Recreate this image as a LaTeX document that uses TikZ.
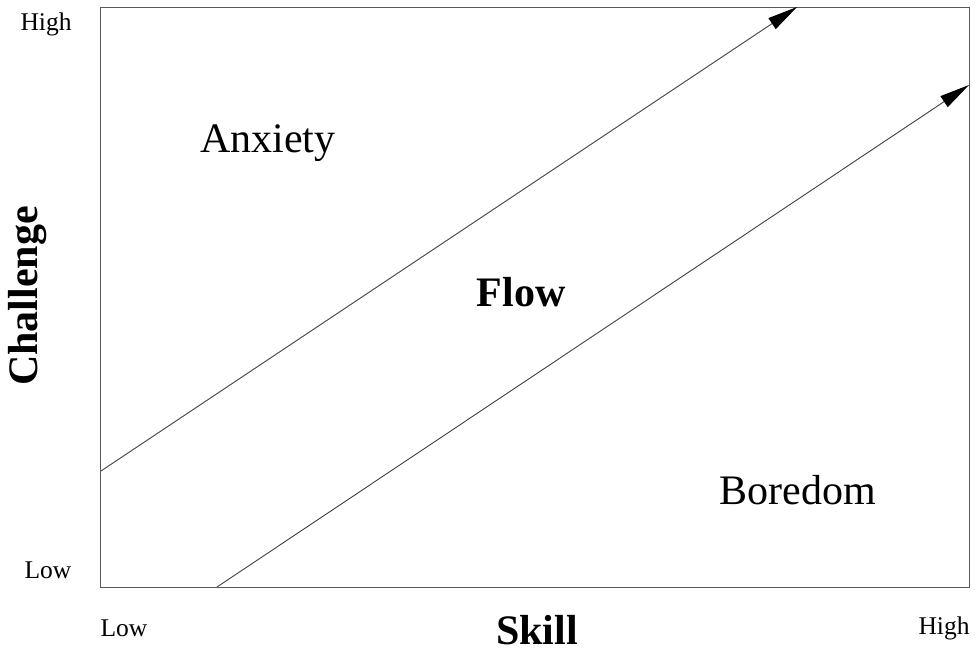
\documentclass[tikz,border=0pt]{standalone}
\usepackage{fontspec}
\setmainfont{Liberation Serif}
\usetikzlibrary{arrows.meta}
\begin{document}
\begin{tikzpicture}[x=1pt,y=-1pt,
  frame/.style={draw=black!65,line width=1pt},
  diag/.style={draw=black!75,line width=0.9pt,-{Triangle[length=30pt,width=13pt,black]}},
  small/.style={font=\fontsize{25.5}{30}\selectfont,inner sep=0pt},
  region/.style={font=\fontsize{42}{48}\selectfont,inner sep=0pt},
  axis/.style={font=\fontsize{42}{48}\selectfont\bfseries,inner sep=0pt}]
\useasboundingbox (0,0) rectangle (975,649);
\coordinate (bl) at (100.5,587);
\coordinate (tr) at (969.5,7);
\draw[frame] (bl) rectangle (tr);
\coordinate (a1) at (101,471);
\coordinate (a2) at (797,7);
\coordinate (b1) at (217,587);
\coordinate (b2) at (969,85);
\draw[diag] (a1) -- (a2);
\draw[diag] (b1) -- (b2);
\node[small] (yhigh) at (46,24) {High};
\node[small] (ylow) at (48,570) {Low};
\node[small] (xlow) at (124,628) {Low};
\node[small] (xhigh) at (944,628) {High};
\node[axis,anchor=base] (skill) at (537,644) {Skill};
\node[axis,rotate=90] (chal) at (28,296) {Challenge};
\node[region] (anx) at (268,143) {Anxiety};
\node[axis] (flow) at (521,292) {Flow};
\node[region] (bore) at (798,490) {Boredom};
\end{tikzpicture}
\end{document}
